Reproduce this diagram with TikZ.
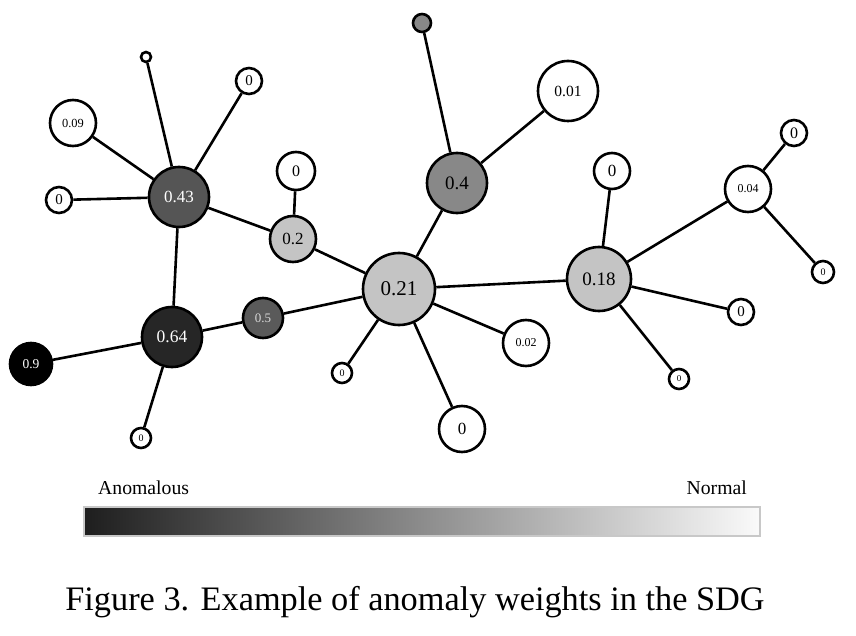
\documentclass[tikz,border=0pt]{standalone}
\usepackage{fontspec}
\setmainfont{Liberation Serif}
\newcommand\fsz[1]{\fontsize{#1}{#1}\selectfont}
\definecolor{c43}{HTML}{555555}
\definecolor{c64}{HTML}{262626}
\definecolor{c9}{HTML}{000000}
\definecolor{c5}{HTML}{5A5A5A}
\definecolor{c4}{HTML}{888888}
\definecolor{clight}{HTML}{C4C4C4}
\definecolor{barl}{HTML}{1E1E1E}
\definecolor{barr}{HTML}{FAFAFA}
\definecolor{barb}{HTML}{C8C8C8}
\tikzset{
  nd/.style={circle, draw=black, line width=2.6pt, inner sep=0pt, fill=white, text=black},
  edge/.style={draw=black, line width=2.6pt},
  lbl/.style={inner sep=0pt, font=\fsz{19.7}},
}
\begin{document}
\begin{tikzpicture}[x=1pt,y=-1pt]
\useasboundingbox (0,0) rectangle (856,636);
% nodes
\node[nd, minimum size=60pt, fill=c43, text=white, font=\fsz{17}] (n43) at (179,197) {0.43};
\node[nd, minimum size=10pt] (ntop) at (146,57) {};
\node[nd, minimum size=26pt, font=\fsz{15}] (n0a) at (249,81) {0};
\node[nd, minimum size=46pt, font=\fsz{12.4}] (n09) at (73,123) {0.09};
\node[nd, minimum size=26pt, font=\fsz{15}] (n0b) at (59,200) {0};
\node[nd, minimum size=46pt, fill=clight, font=\fsz{17}] (n2) at (293,239) {0.2};
\node[nd, minimum size=38pt, font=\fsz{16}] (n0c) at (296,171) {0};
\node[nd, minimum size=60pt, fill=c64, text=white, font=\fsz{17.5}] (n64) at (172,337) {0.64};
\node[nd, minimum size=40pt, fill=c5, text=white!85!black, font=\fsz{13}] (n5) at (263,318) {0.5};
\node[nd, minimum size=42pt, fill=c9, text=white, font=\fsz{13.5}] (n9) at (31,364) {0.9};
\node[nd, minimum size=20pt, font=\fsz{10}] (n0d) at (141,438) {0};
\node[nd, minimum size=72pt, fill=clight, font=\fsz{21}] (n21) at (399,289) {0.21};
\node[nd, minimum size=60pt, fill=c4, font=\fsz{19}] (n4) at (457,183) {0.4};
\node[nd, minimum size=18pt, fill=c4] (ngrey) at (422,23) {};
\node[nd, minimum size=60pt, font=\fsz{15.5}] (n01) at (568,91) {0.01};
\node[nd, minimum size=46pt, font=\fsz{12}] (n02) at (526,343) {0.02};
\node[nd, minimum size=20pt, font=\fsz{10}] (n0e) at (342,373) {0};
\node[nd, minimum size=46pt, font=\fsz{17}] (n0f) at (462,429) {0};
\node[nd, minimum size=64pt, fill=clight, font=\fsz{19}] (n18) at (599,279) {0.18};
\node[nd, minimum size=36pt, font=\fsz{17}] (n0g) at (612,171) {0};
\node[nd, minimum size=46pt, font=\fsz{12}] (n04) at (748,189) {0.04};
\node[nd, minimum size=26pt, font=\fsz{16}] (n0h) at (794,133) {0};
\node[nd, minimum size=22pt, font=\fsz{10}] (n0i) at (823,272) {0};
\node[nd, minimum size=26pt, font=\fsz{15}] (n0j) at (741,312) {0};
\node[nd, minimum size=20pt, font=\fsz{9}] (n0k) at (679,379) {0};
% edges
\path[edge] (n43) -- (ntop);
\path[edge] (n43) -- (n0a);
\path[edge] (n43) -- (n09);
\path[edge] (n43) -- (n0b);
\path[edge] (n43) -- (n2);
\path[edge] (n43) -- (n64);
\path[edge] (n2) -- (n0c);
\path[edge] (n2) -- (n21);
\path[edge] (n64) -- (n9);
\path[edge] (n64) -- (n5);
\path[edge] (n64) -- (n0d);
\path[edge] (n5) -- (n21);
\path[edge] (n21) -- (n4);
\path[edge] (n4) -- (ngrey);
\path[edge] (n4) -- (n01);
\path[edge] (n21) -- (n18);
\path[edge] (n21) -- (n02);
\path[edge] (n21) -- (n0e);
\path[edge] (n21) -- (n0f);
\path[edge] (n18) -- (n0g);
\path[edge] (n18) -- (n04);
\path[edge] (n04) -- (n0h);
\path[edge] (n04) -- (n0i);
\path[edge] (n18) -- (n0j);
\path[edge] (n18) -- (n0k);
% legend
\shade[left color=barl, right color=barr] (84,507) rectangle (760,536);
\draw[barb, line width=1.2pt] (84,507) rectangle (760,536);
\node[lbl, anchor=base west] (anom) at (98,494) {Anomalous};
\node[lbl, anchor=base east] (norm) at (747,494) {Normal};
% caption
\node[inner sep=0pt, anchor=base, font=\fsz{34.3}] (cap) at (415,610) {Figure 3. Example of anomaly weights in the SDG};
\end{tikzpicture}
\end{document}
